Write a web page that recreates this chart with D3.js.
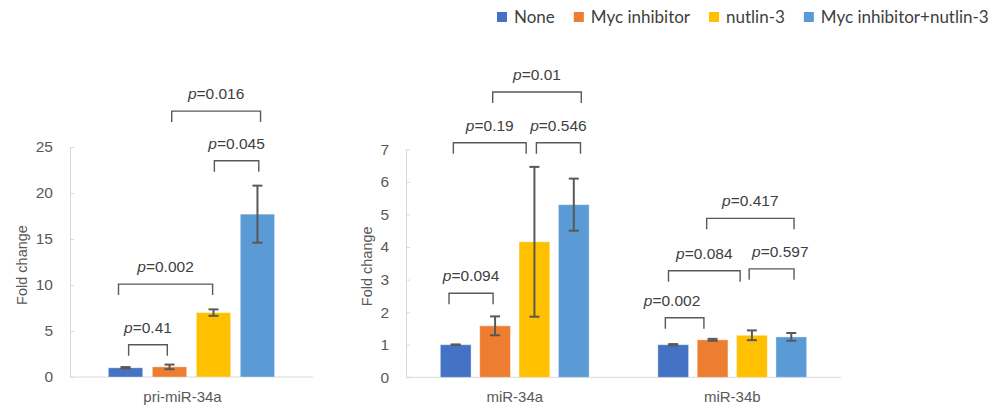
<!DOCTYPE html>
<html>
<head>
<meta charset="utf-8">
<script src="https://d3js.org/d3.v7.min.js"></script>
<style>
  body { margin: 0; background: #fff; }
  svg text { font-family: "Liberation Sans", Arial, sans-serif; }
</style>
</head>
<body>
<svg width="1000" height="408"></svg>
<script>
// groups & series
var series = ["None", "Myc inhibitor", "nutlin-3", "Myc inhibitor+nutlin-3"];
var colors = ["#4472C4", "#ED7D31", "#FFC000", "#5B9BD5"];

var priGroups = ["pri-miR-34a"];
var priMeans = [[1.0, 1.1, 7.0, 17.7]];
var priErrs  = [[0.08, 0.25, 0.35, 3.1]];
var priTicks = [0, 5, 10, 15, 20, 25];
// [group, from bar, to bar, height, p, label at bar]
var priBrackets = [
  [0, 0.07, 0.95, 3.5, "0.41"],
  [0, -0.16, 1.98, 10.1, "0.002"],
  [0, 2.02, 3.03, 23.5, "0.045"],
  [0, 1.05, 3.07, 28.9, "0.016"]
];

var matGroups = ["miR-34a", "miR-34b"];
var matMeans = [[1.0, 1.58, 4.16, 5.3], [1.0, 1.15, 1.29, 1.24]];
var matErrs  = [[0.01, 0.29, 2.3, 0.8], [0.02, 0.03, 0.15, 0.12]];
var matTicks = [0, 1, 2, 3, 4, 5, 6, 7];
var matBrackets = [
  [0, -0.17, 0.95, 2.58, "0.094"],
  [0, -0.06, 1.79, 7.2, "0.19"],
  [0, 2.05, 3.17, 7.2, "0.546"],
  [0, 0.94, 3.19, 8.76, "0.01"],
  [1, -0.2, 0.78, 1.83, "0.002", -0.03],
  [1, -0.12, 1.70, 3.27, "0.084"],
  [1, 1.93, 3.07, 3.33, "0.597", 2.72],
  [1, 0.85, 3.07, 4.88, "0.417"]
];

var svg = d3.select("svg");
var grey = "#595959";

function panel(o) {
  var g = svg.append("g");

  var x0 = d3.scaleBand().domain(o.groups).range(o.xr)
      .paddingInner(0.316).paddingOuter(0.158);
  var x1 = d3.scaleBand().domain(series).range([0, x0.bandwidth()])
      .paddingInner(0.22);
  var y = d3.scaleLinear().domain([0, o.max]).range(o.yr);

  // y axis
  var ya = g.append("g")
      .attr("transform", "translate(" + o.xr[0] + ",0)")
      .call(d3.axisLeft(y).tickValues(o.ticks).tickFormat(d3.format("d"))
        .tickSizeInner(-4).tickSizeOuter(0).tickPadding(17));
  ya.select(".domain").attr("stroke", "#d9d9d9");
  ya.selectAll(".tick line").attr("stroke", "#d9d9d9");
  ya.selectAll(".tick text").attr("fill", grey).style("font-size", "15.5px");

  // baseline
  g.append("line")
      .attr("x1", o.xr[0]).attr("x2", o.xr[1])
      .attr("y1", y(0)).attr("y2", y(0))
      .attr("stroke", "#d9d9d9");

  g.append("text")
      .attr("transform", "translate(" + o.titleX + "," + ((o.yr[0] + o.yr[1]) / 2 + 3) + ") rotate(-90)")
      .attr("text-anchor", "middle")
      .attr("dy", "0.35em")
      .attr("fill", grey)
      .style("font-size", "14.5px")
      .text("Fold change");

  var grp = g.selectAll(".grp")
    .data(o.groups)
    .enter().append("g")
      .attr("class", "grp")
      .attr("transform", function(d) { return "translate(" + x0(d) + ",0)"; });

  var rows = function(d, gi) {
    return o.means[gi].map(function(v, i) { return {v: v, e: o.errs[gi][i], i: i}; });
  };

  grp.selectAll("rect")
    .data(rows)
    .enter().append("rect")
      .attr("x", function(d) { return x1(series[d.i]); })
      .attr("y", function(d) { return y(d.v); })
      .attr("width", x1.bandwidth())
      .attr("height", function(d) { return y(0) - y(d.v); })
      .attr("fill", function(d) { return colors[d.i]; })
      .attr("stroke", "#fff").attr("stroke-opacity", 0.35);

  // error bars
  var eb = grp.selectAll(".eb")
    .data(rows)
    .enter().append("g").attr("class", "eb")
      .attr("stroke", grey).attr("stroke-width", 2);
  var cx = function(d) { return x1(series[d.i]) + x1.bandwidth() / 2; };
  eb.append("line")
      .attr("x1", cx).attr("x2", cx)
      .attr("y1", function(d) { return y(d.v + d.e); })
      .attr("y2", function(d) { return y(d.v - d.e); });
  eb.append("line")
      .attr("x1", function(d) { return cx(d) - 5; }).attr("x2", function(d) { return cx(d) + 5; })
      .attr("y1", function(d) { return y(d.v + d.e); })
      .attr("y2", function(d) { return y(d.v + d.e); });
  eb.append("line")
      .attr("x1", function(d) { return cx(d) - 5; }).attr("x2", function(d) { return cx(d) + 5; })
      .attr("y1", function(d) { return y(d.v - d.e); })
      .attr("y2", function(d) { return y(d.v - d.e); });

  // category labels
  g.selectAll(".cat")
    .data(o.groups)
    .enter().append("text")
      .attr("x", function(d) { return x0(d) + x0.bandwidth() / 2 + (o.catShift || 0); })
      .attr("y", o.yr[0] + 25)
      .attr("text-anchor", "middle")
      .attr("fill", grey)
      .style("font-size", "15px")
      .text(function(d) { return d; });

  // p-value brackets
  var barX = function(gi, i) {
    return x0(o.groups[gi]) + x1.bandwidth() / 2 + i * x1.step();
  };
  var br = g.selectAll(".br")
    .data(o.brackets)
    .enter().append("g").attr("class", "br");
  br.append("path")
      .attr("d", function(d) {
        var a = barX(d[0], d[1]), b = barX(d[0], d[2]), t = y(d[3]);
        return "M" + a + "," + (t + 11) + "V" + t + "H" + b + "V" + (t + 11);
      })
      .attr("fill", "none")
      .attr("stroke", grey)
      .attr("stroke-width", 1.4);
  var lab = br.append("text")
      .attr("x", function(d) {
        return d[5] != null ? barX(d[0], d[5]) : (barX(d[0], d[1]) + barX(d[0], d[2])) / 2;
      })
      .attr("y", function(d) { return y(d[3]) - 12; })
      .attr("text-anchor", "middle")
      .attr("fill", "#404040")
      .style("font-size", "15.5px");
  lab.append("tspan").style("font-style", "italic").text("p");
  lab.append("tspan").text(function(d) { return "=" + d[4]; });
}

panel({
  groups: priGroups, means: priMeans, errs: priErrs, brackets: priBrackets,
  ticks: priTicks, max: 25, xr: [70, 313], yr: [377, 147], titleX: 22, catShift: -9
});

panel({
  groups: matGroups, means: matMeans, errs: matErrs, brackets: matBrackets,
  ticks: matTicks, max: 7, xr: [406, 841], yr: [377.3, 149.3], titleX: 367
});

// legend
var leg = svg.append("g").attr("class", "legend");
var lx = 497;
series.forEach(function(s, i) {
  leg.append("rect")
      .attr("x", lx).attr("y", 12)
      .attr("width", 10).attr("height", 10)
      .attr("fill", colors[i]);
  var t = leg.append("text")
      .attr("x", lx + 17).attr("y", 22.5)
      .attr("fill", "#404040")
      .style("font-family", "Lato, sans-serif")
      .style("font-size", "17px")
      .text(s);
  lx = lx + 17 + t.node().getComputedTextLength() + 19;
});
</script>
</body>
</html>
